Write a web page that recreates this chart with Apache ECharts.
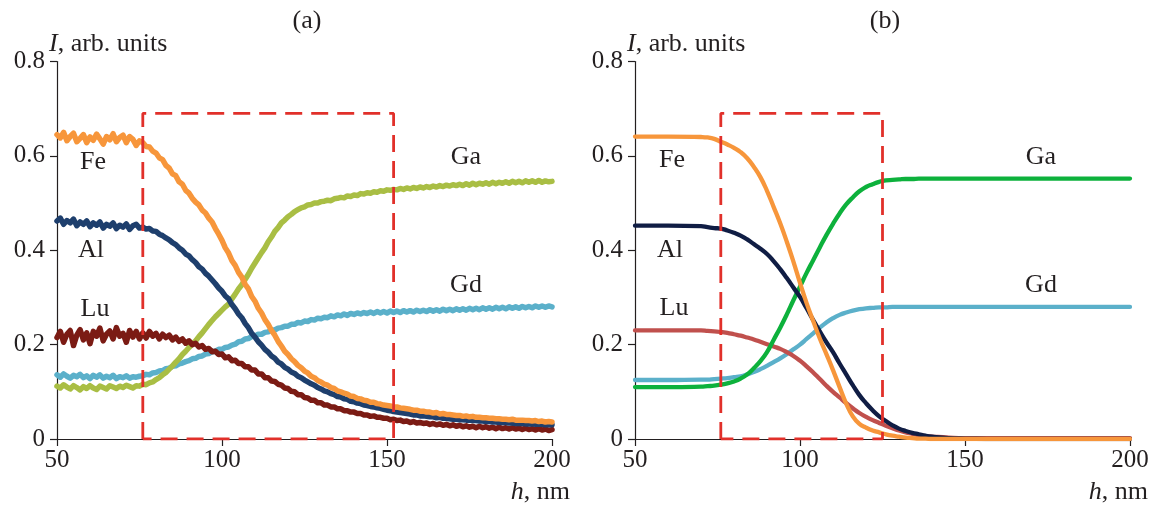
<!DOCTYPE html>
<html><head><meta charset="utf-8">
<script src="https://cdn.jsdelivr.net/npm/echarts@6/dist/echarts.min.js"></script>
<style>html,body{margin:0;padding:0;background:#fff}#c{width:1153px;height:505px}</style>
</head><body><div id="c"></div>
<script>
// ---------- Panel (a): measured profiles, h = 50..200 nm step 1 ----------
const hA = [50,51,52,53,54,55,56,57,58,59,60,61,62,63,64,65,66,67,68,69,70,71,72,73,74,75,
76,77,78,79,80,81,82,83,84,85,86,87,88,89,90,91,92,93,94,95,96,97,98,99,100,
101,102,103,104,105,106,107,108,109,110,111,112,113,114,115,116,117,118,119,120,
121,122,123,124,125,126,127,128,129,130,131,132,133,134,135,136,137,138,139,140,
141,142,143,144,145,146,147,148,149,150,151,152,153,154,155,156,157,158,159,160,
161,162,163,164,165,166,167,168,169,170,171,172,173,174,175,176,177,178,179,180,
181,182,183,184,185,186,187,188,189,190,191,192,193,194,195,196,197,198,199,200];

const feA = [0.645,0.638,0.650,0.632,0.641,0.648,0.630,0.637,0.645,0.628,0.640,0.633,0.646,0.636,0.625,0.641,0.634,0.647,0.630,0.639,0.644,0.628,0.641,0.635,0.622,0.632,
0.628,0.620,0.619,0.610,0.606,0.596,0.592,0.580,0.574,0.562,
0.558,0.545,0.540,0.527,0.521,0.510,0.502,0.496,0.485,0.479,
0.468,0.460,0.446,0.434,0.421,0.405,0.394,0.378,0.368,0.353,
0.343,0.328,0.318,0.302,0.292,0.277,0.267,0.253,0.243,0.230,
0.220,0.207,0.197,0.186,0.179,0.170,0.164,0.156,0.151,0.144,
0.140,0.133,0.130,0.124,0.121,0.116,0.114,0.109,0.107,0.102,
0.100,0.097,0.095,0.091,0.090,0.086,0.085,0.082,0.081,0.078,
0.078,0.075,0.074,0.072,0.071,0.070,0.068,0.068,0.066,0.065,
0.064,0.063,0.061,0.061,0.059,0.059,0.057,0.057,0.055,0.056,
0.053,0.054,0.052,0.052,0.051,0.050,0.050,0.048,0.049,0.047,
0.048,0.046,0.046,0.045,0.045,0.044,0.044,0.043,0.043,0.042,
0.042,0.041,0.042,0.040,0.040,0.040,0.039,0.039,0.038,0.039,
0.037,0.038,0.036,0.037,0.036];

const alA = [0.462,0.468,0.455,0.463,0.458,0.466,0.452,0.460,0.455,0.462,0.450,0.458,0.453,0.460,0.447,0.455,0.451,0.458,0.446,0.453,0.449,0.456,0.444,0.452,0.455,0.447,
0.449,0.445,0.446,0.441,0.440,0.434,0.431,0.426,0.422,0.416,
0.412,0.405,0.400,0.392,0.388,0.380,0.374,0.365,0.360,0.351,
0.345,0.337,0.329,0.320,0.313,0.303,0.297,0.285,0.276,0.265,
0.257,0.245,0.236,0.224,0.216,0.206,0.199,0.190,0.184,0.176,
0.171,0.163,0.159,0.152,0.148,0.142,0.139,0.133,0.130,0.125,
0.121,0.117,0.114,0.109,0.106,0.102,0.100,0.096,0.094,0.090,
0.089,0.085,0.084,0.080,0.079,0.076,0.075,0.072,0.071,0.069,
0.068,0.066,0.065,0.063,0.061,0.060,0.058,0.057,0.056,0.055,
0.054,0.053,0.051,0.051,0.049,0.049,0.048,0.047,0.047,0.045,
0.046,0.044,0.044,0.043,0.042,0.042,0.041,0.041,0.040,0.040,
0.039,0.039,0.038,0.038,0.037,0.037,0.036,0.036,0.035,0.035,
0.035,0.034,0.034,0.033,0.033,0.033,0.032,0.032,0.032,0.031,
0.031,0.031,0.030,0.030,0.030];

const luA = [0.215,0.228,0.205,0.222,0.230,0.198,0.220,0.232,0.210,0.225,0.202,0.228,0.218,0.235,0.208,0.222,0.229,0.212,0.236,0.218,0.224,0.205,0.230,0.216,0.228,0.212,
0.225,0.214,0.228,0.218,0.224,0.212,0.222,0.215,0.220,0.210,
0.216,0.207,0.212,0.203,0.208,0.200,0.203,0.195,0.198,0.190,
0.192,0.185,0.186,0.179,0.180,0.172,0.174,0.166,0.167,0.160,
0.160,0.153,0.153,0.146,0.146,0.138,0.138,0.130,0.130,0.123,
0.122,0.116,0.114,0.108,0.107,0.101,0.100,0.094,0.094,0.088,
0.087,0.082,0.082,0.077,0.077,0.072,0.072,0.068,0.068,0.064,
0.064,0.060,0.060,0.057,0.057,0.054,0.054,0.051,0.051,0.048,
0.049,0.046,0.046,0.044,0.044,0.041,0.042,0.039,0.040,0.037,
0.038,0.035,0.037,0.034,0.035,0.033,0.034,0.031,0.033,0.030,
0.032,0.029,0.031,0.028,0.030,0.027,0.029,0.026,0.028,0.025,
0.027,0.024,0.027,0.024,0.026,0.023,0.025,0.022,0.025,0.022,
0.024,0.021,0.024,0.021,0.023,0.020,0.023,0.020,0.022,0.019,
0.022,0.019,0.021,0.018,0.020];

const gaA = [0.112,0.108,0.115,0.110,0.106,0.113,0.109,0.104,0.111,0.107,0.113,0.108,0.105,0.112,0.109,0.106,0.113,0.110,0.107,0.112,0.109,0.114,0.111,0.108,0.113,0.112,
0.116,0.115,0.119,0.121,0.126,0.130,0.136,0.141,0.148,0.155,
0.163,0.170,0.179,0.186,0.194,0.201,0.208,0.217,0.225,0.234,
0.243,0.251,0.259,0.266,0.273,0.280,0.286,0.297,0.307,0.318,
0.327,0.338,0.349,0.362,0.373,0.384,0.395,0.405,0.418,0.428,
0.440,0.448,0.458,0.464,0.471,0.476,0.482,0.486,0.490,0.492,
0.496,0.497,0.500,0.500,0.503,0.504,0.506,0.505,0.509,0.510,
0.512,0.511,0.515,0.514,0.517,0.516,0.520,0.519,0.522,0.521,
0.524,0.523,0.526,0.525,0.528,0.527,0.529,0.528,0.531,0.529,
0.532,0.530,0.533,0.531,0.534,0.532,0.535,0.533,0.536,0.534,
0.537,0.535,0.538,0.536,0.539,0.537,0.540,0.537,0.541,0.538,
0.542,0.539,0.542,0.540,0.543,0.540,0.544,0.541,0.544,0.542,
0.545,0.542,0.546,0.543,0.546,0.543,0.547,0.544,0.547,0.544,
0.548,0.544,0.547,0.545,0.546];

const gdA = [0.136,0.131,0.138,0.133,0.129,0.135,0.132,0.137,0.130,0.134,0.128,0.135,0.131,0.136,0.129,0.133,0.130,0.135,0.128,0.132,0.130,0.134,0.129,0.132,0.131,0.133,
0.134,0.137,0.136,0.140,0.141,0.144,0.145,0.149,0.150,0.154,
0.155,0.159,0.161,0.164,0.166,0.170,0.171,0.175,0.176,0.180,
0.181,0.185,0.186,0.190,0.190,0.194,0.195,0.199,0.201,0.206,
0.207,0.212,0.213,0.217,0.218,0.222,0.222,0.226,0.227,0.231,
0.231,0.235,0.236,0.239,0.239,0.243,0.243,0.247,0.246,0.250,
0.249,0.253,0.252,0.256,0.255,0.258,0.257,0.261,0.259,0.263,
0.261,0.265,0.262,0.266,0.264,0.267,0.265,0.268,0.266,0.269,
0.266,0.270,0.267,0.270,0.267,0.271,0.268,0.271,0.268,0.272,
0.269,0.272,0.269,0.273,0.270,0.273,0.270,0.274,0.271,0.274,
0.271,0.275,0.272,0.275,0.272,0.276,0.273,0.276,0.273,0.277,
0.274,0.277,0.274,0.278,0.275,0.278,0.275,0.279,0.276,0.279,
0.276,0.280,0.277,0.280,0.277,0.281,0.278,0.281,0.278,0.282,
0.279,0.282,0.279,0.282,0.280];

// ---------- Panel (b): model profiles ----------
const hB = [50,60,70,72,74,76,78,80,82,84,86,88,90,92,94,96,98,100,102,104,106,108,110,112,114,116,118,120,122,124,126,128,130,132,134,136,138,140,145,150,160,170,180,190,200];
const feB = [0.641,0.641,0.640,0.639,0.636,0.630,0.624,0.617,0.608,0.595,0.577,0.555,0.526,0.492,0.457,0.418,0.376,0.331,0.288,0.250,0.213,0.180,0.146,0.110,0.075,0.048,0.032,0.024,0.018,0.014,0.010,0.007,0.005,0.003,0.002,0.001,0.001,0,0,0,0,0,0,0,0];
const alB = [0.452,0.452,0.451,0.449,0.447,0.446,0.442,0.437,0.431,0.423,0.413,0.403,0.392,0.377,0.360,0.341,0.321,0.301,0.277,0.252,0.228,0.205,0.184,0.160,0.137,0.114,0.093,0.076,0.061,0.048,0.038,0.029,0.022,0.017,0.013,0.010,0.007,0.005,0.002,0.001,0,0,0,0,0];
const luB = [0.230,0.230,0.230,0.229,0.228,0.227,0.225,0.222,0.219,0.215,0.211,0.206,0.201,0.196,0.191,0.184,0.176,0.166,0.154,0.141,0.127,0.113,0.100,0.088,0.076,0.065,0.055,0.047,0.040,0.034,0.028,0.023,0.018,0.014,0.011,0.008,0.006,0.005,0.003,0.002,0.002,0.002,0.002,0.002,0.002];
const gaB = [0.110,0.110,0.111,0.112,0.113,0.115,0.118,0.122,0.128,0.137,0.150,0.165,0.184,0.210,0.236,0.264,0.294,0.323,0.352,0.379,0.406,0.432,0.456,0.478,0.497,0.512,0.525,0.534,0.540,0.545,0.548,0.549,0.550,0.551,0.551,0.552,0.552,0.552,0.552,0.552,0.552,0.552,0.552,0.552,0.552];
const gdB = [0.125,0.125,0.126,0.126,0.127,0.128,0.129,0.131,0.133,0.137,0.142,0.148,0.155,0.163,0.171,0.180,0.190,0.200,0.212,0.224,0.236,0.247,0.256,0.263,0.268,0.272,0.275,0.277,0.278,0.279,0.279,0.280,0.280,0.280,0.280,0.280,0.280,0.280,0.280,0.280,0.280,0.280,0.280,0.280,0.280];

// dashed frames: [h_left, h_right, I_top]
const boxA = [76, 152, 0.69];
const boxB = [76, 125, 0.69];

const xTicks = [50, 100, 150, 200];
const yTicks = [0, 0.2, 0.4, 0.6, 0.8];

// ---------- styling ----------
const INK = '#231f20';
const SERIF = '"Liberation Serif", "Times New Roman", serif';
const FS = 25;
const colA = {Fe:'#f7963b', Al:'#1e3f6d', Lu:'#7b1b14', Ga:'#a9be44', Gd:'#5bb0ca'};
const colB = {Fe:'#f7963b', Al:'#101d44', Lu:'#c0504d', Ga:'#0db13c', Gd:'#5bb0ca'};
const RED = '#e1302a';

function pairs(xs, ys){ return xs.map((x,i)=>[x, ys[i]]); }
function rect(b){ return [[b[0],0],[b[0],b[2]],[b[1],b[2]],[b[1],0],[b[0],0]]; }

function xAxis(gi){
  return {type:'value', gridIndex:gi, min:xTicks[0], max:xTicks[xTicks.length-1], interval:50,
    axisLine:{show:true, onZero:false, lineStyle:{color:INK, width:1.2}},
    axisTick:{show:true, inside:false, length:7, lineStyle:{color:INK, width:1.2}},
    axisLabel:{color:INK, fontFamily:SERIF, fontSize:FS, margin:9},
    splitLine:{show:false}};
}
function yAxis(gi){
  return {type:'value', gridIndex:gi, min:yTicks[0], max:yTicks[yTicks.length-1], interval:0.2,
    axisLine:{show:true, onZero:false, lineStyle:{color:INK, width:1.2}},
    axisTick:{show:true, inside:false, length:7, lineStyle:{color:INK, width:1.2}},
    axisLabel:{color:INK, fontFamily:SERIF, fontSize:FS, margin:12,
      formatter: v => v === 0 ? '0' : v.toFixed(1)},
    splitLine:{show:false}};
}
function line(name, xs, ys, color, w, gi, smooth){
  return {name, type:'line', xAxisIndex:gi, yAxisIndex:gi, data:pairs(xs, ys),
    showSymbol:false, symbol:'none', smooth:smooth, animation:false,
    lineStyle:{color, width:w, cap:'round', join:'round'}};
}
function box(b, gi){
  return {type:'line', xAxisIndex:gi, yAxisIndex:gi, data:rect(b), showSymbol:false, symbol:'none',
    animation:false, z:5, lineStyle:{color:RED, width:2.8, type:[17,9]}};
}

function txt(text, x, y, align, rich){
  return {type:'text', x, y, silent:true, style:{text, fill:INK, fontFamily:SERIF, fontSize:26,
    align:align||'center', verticalAlign:'middle',
    rich: rich ? {i:{fontStyle:'italic', fontFamily:SERIF, fontSize:26, fill:INK}} : undefined}};
}

const chart = echarts.init(document.getElementById('c'), null, {renderer:'canvas'});
chart.setOption({
  backgroundColor:'#fff',
  animation:false,
  grid:[
    {left:57, right:601, top:61.5, bottom:66, containLabel:false},
    {left:635, right:23, top:61.5, bottom:66, containLabel:false}
  ],
  xAxis:[xAxis(0), xAxis(1)],
  yAxis:[yAxis(0), yAxis(1)],
  series:[
    line('Gd', hA, gdA, colA.Gd, 5.5, 0, false),
    line('Ga', hA, gaA, colA.Ga, 5.5, 0, false),
    line('Lu', hA, luA, colA.Lu, 5.5, 0, false),
    line('Al', hA, alA, colA.Al, 5.5, 0, false),
    line('Fe', hA, feA, colA.Fe, 5.5, 0, false),
    box(boxA, 0),
    line('Gd', hB, gdB, colB.Gd, 4.3, 1, true),
    line('Lu', hB, luB, colB.Lu, 4.3, 1, true),
    line('Ga', hB, gaB, colB.Ga, 4.3, 1, true),
    line('Al', hB, alB, colB.Al, 4.3, 1, true),
    line('Fe', hB, feB, colB.Fe, 4.3, 1, true),
    box(boxB, 1)
  ],
  graphic:[
    txt('(a)', 307, 21), txt('(b)', 885, 21),
    txt('{i|I}, arb. units', 49, 44, 'left', true),
    txt('{i|I}, arb. units', 627, 44, 'left', true),
    txt('{i|h}, nm', 570, 492, 'right', true),
    txt('{i|h}, nm', 1148, 492, 'right', true),
    txt('Fe', 93, 162), txt('Al', 91, 250), txt('Lu', 95, 309),
    txt('Ga', 466, 157), txt('Gd', 466, 285),
    txt('Fe', 672, 160), txt('Al', 670, 250), txt('Lu', 674, 308),
    txt('Ga', 1041, 157), txt('Gd', 1041, 285)
  ]
});
</script>
</body></html>
